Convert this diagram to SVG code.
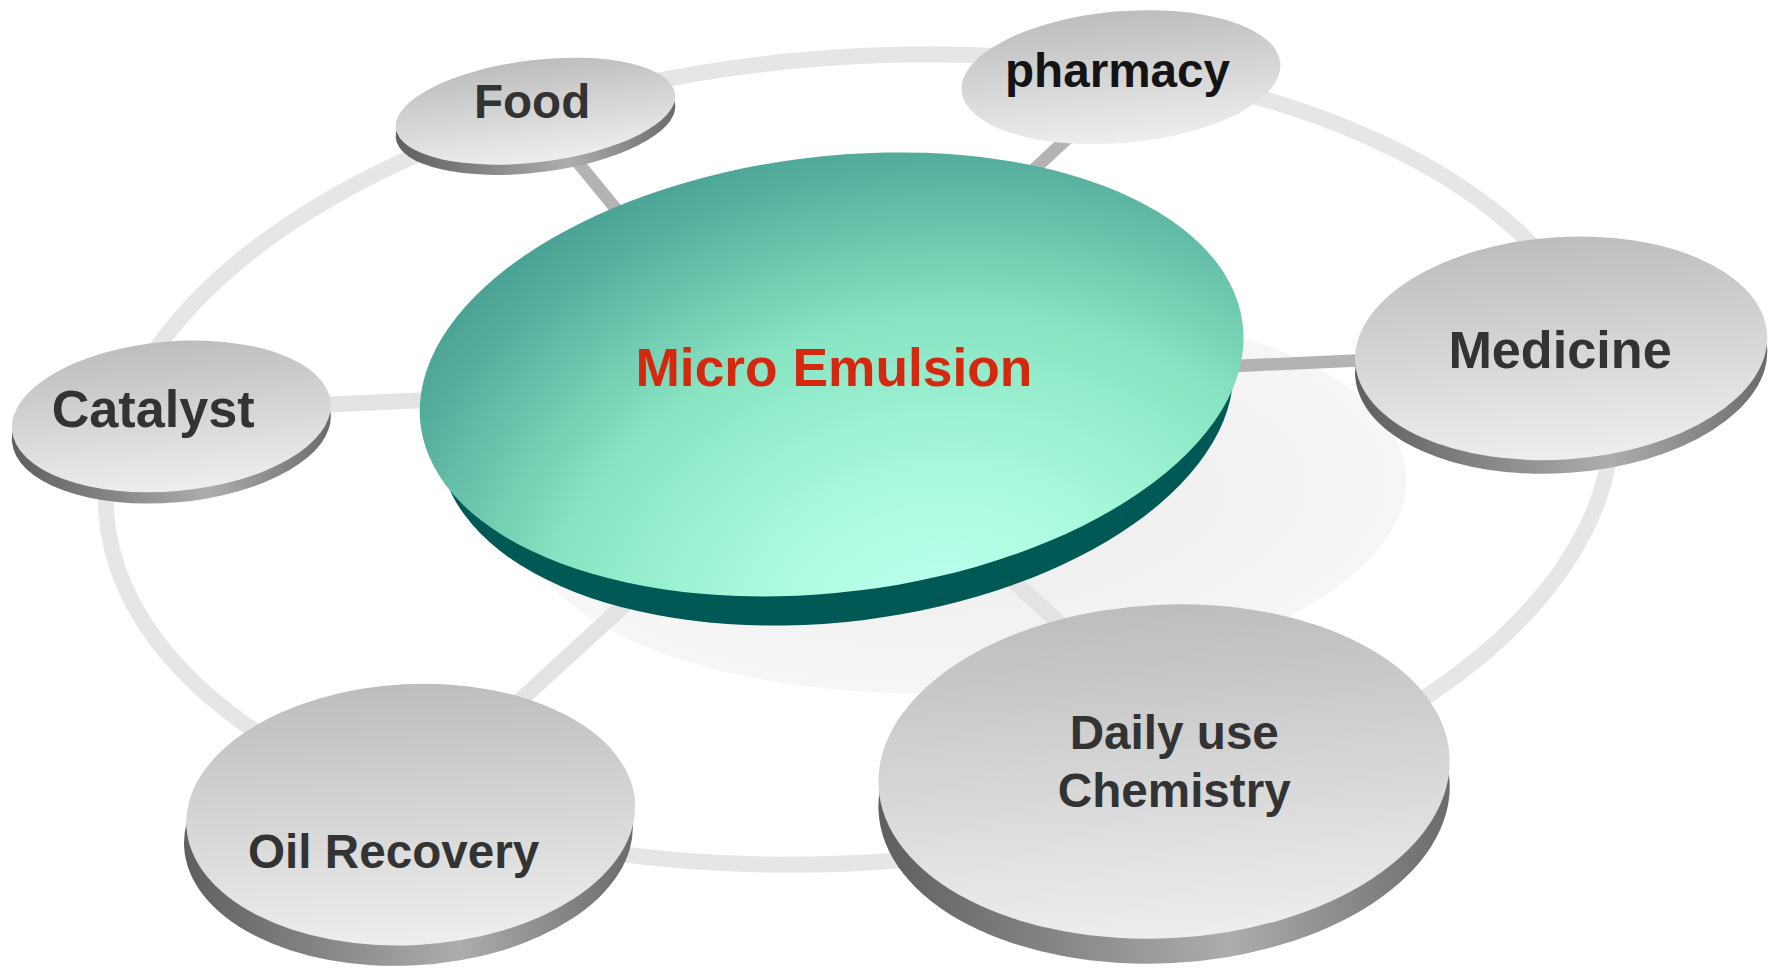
<svg xmlns="http://www.w3.org/2000/svg" width="1779" height="969" viewBox="0 0 1779 969">
<defs>
  <linearGradient id="face" x1="0" y1="0" x2="0" y2="1">
    <stop offset="0" stop-color="#bdbdbd"/>
    <stop offset="1" stop-color="#eeeeee"/>
  </linearGradient>
  <linearGradient id="rim" x1="0" y1="0" x2="1" y2="0">
    <stop offset="0" stop-color="#5f5f5f"/>
    <stop offset="0.6" stop-color="#adadad"/>
    <stop offset="1" stop-color="#6a6a6a"/>
  </linearGradient>
  <radialGradient id="disk" gradientUnits="userSpaceOnUse" cx="800" cy="570" r="560" gradientTransform="translate(800 570) scale(1.25 1) translate(-800 -570)">
    <stop offset="0" stop-color="#c2fff4"/>
    <stop offset="0.25" stop-color="#a8fadc"/>
    <stop offset="0.5" stop-color="#88e4c2"/>
    <stop offset="0.75" stop-color="#55ad9c"/>
    <stop offset="1" stop-color="#2c8580"/>
  </radialGradient>
  <radialGradient id="shadow" cx="0.5" cy="0.5" r="0.5">
    <stop offset="0" stop-color="#ebebeb"/>
    <stop offset="1" stop-color="#f6f6f6"/>
  </radialGradient>
  <style>
    .ring{fill:none;stroke:#e6e6e6;stroke-width:14}
    .spokeD{stroke:#b3b3b3;stroke-width:11;stroke-linecap:butt}
    .spokeL{stroke:#e3e3e3;stroke-width:14;stroke-linecap:butt}
    .face{fill:url(#face)}
    .rim{fill:url(#rim)}
    .lbl{font-family:"Liberation Sans",Arial,sans-serif;font-weight:bold;fill:#333333;text-anchor:middle}
  </style>
</defs>
<rect width="1779" height="969" fill="#ffffff"/>
<g transform="scale(1.13457)">
  <g id="connectors">
    <ellipse class="ring" cx="757" cy="405" rx="665" ry="355" transform="rotate(-4 757 405)"/>
    <ellipse cx="850" cy="440" rx="390" ry="170" fill="url(#shadow)" transform="rotate(-3 850 440)"/>
    <line class="spokeD" x1="505" y1="138" x2="560" y2="205"/>
    <line class="spokeD" x1="945" y1="118" x2="900" y2="160"/>
    <line class="spokeD" x1="1080" y1="323" x2="1210" y2="317"/>
    <line class="spokeL" x1="280" y1="357" x2="390" y2="352"/>
    <line class="spokeL" x1="450" y1="625" x2="570" y2="515"/>
    <line class="spokeL" x1="880" y1="500" x2="940" y2="555"/>
  </g>
  <g id="center">
    <ellipse cx="737" cy="358" rx="352" ry="190" fill="#005955" transform="rotate(-7 737 358)"/>
    <ellipse cx="733" cy="330" rx="365" ry="192" fill="url(#disk)" transform="rotate(-7 733 330)"/>
    <text x="735" y="340" font-family="Liberation Sans, Arial, sans-serif" font-weight="bold" font-size="47" fill="#d4290f" text-anchor="middle">Micro Emulsion</text>
  </g>
  <g id="food">
    <ellipse class="rim" cx="472" cy="107" rx="124" ry="45" transform="rotate(-7 472 107)"/>
    <ellipse class="face" cx="472" cy="98" rx="124" ry="45" transform="rotate(-7 472 98)"/>
    <text class="lbl" x="469" y="104" font-size="42">Food</text>
  </g>
  <g id="pharmacy">
    <ellipse class="face" cx="988" cy="68" rx="141" ry="58" transform="rotate(-5 988 68)"/>
    <text class="lbl" x="985" y="77" font-size="42" style="fill:#141414">pharmacy</text>
  </g>
  <g id="medicine">
    <ellipse class="rim" cx="1376" cy="319" rx="182" ry="98" transform="rotate(-4 1376 319)"/>
    <ellipse class="face" cx="1376" cy="307" rx="182" ry="98" transform="rotate(-4 1376 307)"/>
    <text class="lbl" x="1375" y="324" font-size="46">Medicine</text>
  </g>
  <g id="catalyst">
    <ellipse class="rim" cx="151" cy="377" rx="141" ry="66" transform="rotate(-5 151 377)"/>
    <ellipse class="face" cx="151" cy="367" rx="141" ry="66" transform="rotate(-5 151 367)"/>
    <text class="lbl" x="135" y="376" font-size="46">Catalyst</text>
  </g>
  <g id="oil">
    <ellipse class="rim" cx="360" cy="736" rx="198" ry="115" transform="rotate(-3 360 736)"/>
    <ellipse class="face" cx="362" cy="718" rx="198" ry="115" transform="rotate(-3 362 718)"/>
    <text class="lbl" x="347" y="765" font-size="42">Oil Recovery</text>
  </g>
  <g id="daily">
    <ellipse class="rim" cx="1026" cy="702" rx="252" ry="147" transform="rotate(-3 1026 702)"/>
    <ellipse class="face" cx="1026" cy="680" rx="252" ry="147" transform="rotate(-3 1026 680)"/>
    <text class="lbl" x="1035" y="660" font-size="42">Daily use</text>
    <text class="lbl" x="1035" y="711" font-size="42">Chemistry</text>
  </g>
</g>
</svg>
